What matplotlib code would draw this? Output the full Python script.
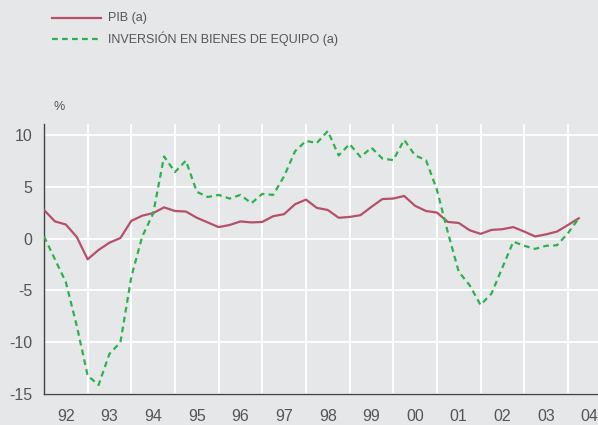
import matplotlib
matplotlib.use("Agg")
import matplotlib.pyplot as plt
from matplotlib.lines import Line2D
import numpy as np

plt.rcParams['font.family'] = ['Liberation Sans', 'DejaVu Sans']

# Quarterly data, 1992 Q1 .. 2004 Q2 (year-on-year % change)
start_year = 1992
pib = [2.75, 1.65, 1.35, 0.15,
       -2.0, -1.1, -0.4, 0.05,
       1.7, 2.2, 2.45, 3.0,
       2.65, 2.6, 2.0, 1.55,
       1.1, 1.3, 1.65, 1.55,
       1.6, 2.15, 2.35, 3.3,
       3.75, 2.95, 2.75, 2.0,
       2.08, 2.25, 3.05, 3.8,
       3.85, 4.1, 3.15, 2.65,
       2.5, 1.6, 1.5, 0.8,
       0.45, 0.83, 0.9, 1.1,
       0.67, 0.2, 0.4, 0.67,
       1.3, 1.95]
inversion = [0.2, -2.0, -4.2, -8.4,
             -13.2, -14.1, -11.1, -10.0,
             -3.7, 0.2, 2.4, 7.9,
             6.4, 7.5, 4.5, 4.0,
             4.2, 3.85, 4.2, 3.4,
             4.3, 4.2, 6.0, 8.4,
             9.4, 9.2, 10.35, 8.0,
             9.1, 7.85, 8.75, 7.7,
             7.55, 9.5, 8.0, 7.55,
             4.7, 0.6, -3.2, -4.5,
             -6.4, -5.3, -2.8, -0.3,
             -0.7, -1.0, -0.7, -0.65,
             0.5, 1.95]
year_labels = ['92', '93', '94', '95', '96', '97', '98', '99', '00', '01', '02', '03', '04']
y_ticks = [-15, -10, -5, 0, 5, 10]
series_labels = ['PIB (a)', 'INVERSIÓN EN BIENES DE EQUIPO (a)']

bg = '#e6e7e8'
red = '#b5506a'
green = '#2bb24c'
txt = '#555555'

W, H = 598, 425
fig = plt.figure(figsize=(W / 100, H / 100), dpi=100, facecolor=bg)
ax = fig.add_axes([44 / W, 1 - 394.3 / H, (W - 44) / W, (394.3 - 124.3) / H])
ax.set_facecolor(bg)

x = start_year + np.arange(len(pib)) / 4.0
ax.plot(x, pib, color=red, lw=1.6, solid_joinstyle='round', zorder=3)
ax.plot(x, inversion, color=green, lw=1.6, linestyle=(0, (2.6, 1.9)), zorder=3)

ax.set_xlim(1992, 2004.69)
ax.set_ylim(-15, 11)

years = start_year + np.arange(len(year_labels))
ax.set_xticks(years)
ax.set_xticklabels([])
ax.set_xticks(years + 0.5, minor=True)
ax.set_xticklabels(year_labels, minor=True)
ax.tick_params(axis='x', which='both', length=0, pad=10.5, labelsize=11.5, labelcolor=txt)
ax.set_yticks(y_ticks)
ax.set_yticklabels([str(v) for v in y_ticks])
ax.tick_params(axis='y', length=0, pad=8.5, labelsize=11.5, labelcolor=txt)

ax.grid(True, which='major', color='white', lw=1.3, zorder=1)
ax.set_axisbelow(True)
for s in ['top', 'right']:
    ax.spines[s].set_visible(False)
for s in ['left', 'bottom']:
    ax.spines[s].set_color('#444444')
    ax.spines[s].set_linewidth(1.0)

fig.text(53 / W, 1 - 107 / H, '%', fontsize=9, color=txt, ha='left', va='center')

# legend
for i, (lab, col, ls) in enumerate(zip(series_labels, [red, green], ['-', (0, (2.6, 1.9))])):
    yy = 1 - (17.7 + 21 * i) / H
    fig.add_artist(Line2D([52 / W, 101 / W], [yy, yy], transform=fig.transFigure,
                          color=col, lw=1.6, linestyle=ls))
    fig.text(108 / W, yy, lab, fontsize=9, color=txt, ha='left', va='center')

fig.savefig('out.png', dpi=100, facecolor=bg)
